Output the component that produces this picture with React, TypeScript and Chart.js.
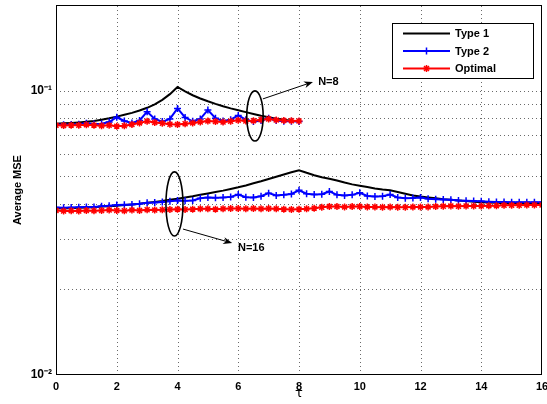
import React, { useEffect, useRef } from 'react';
import { Chart, registerables } from 'chart.js';

Chart.register(...registerables);

// ---------- data ----------
const TAU_8 = [0, 0.25, 0.5, 0.75, 1, 1.25, 1.5, 1.75, 2, 2.25, 2.5, 2.75, 3, 3.25, 3.5, 3.75, 4, 4.25, 4.5, 4.75, 5, 5.25, 5.5, 5.75, 6, 6.25, 6.5, 6.75, 7, 7.25, 7.5, 7.75, 8];
const TAU_16 = [0, 0.25, 0.5, 0.75, 1, 1.25, 1.5, 1.75, 2, 2.25, 2.5, 2.75, 3, 3.25, 3.5, 3.75, 4, 4.25, 4.5, 4.75, 5, 5.25, 5.5, 5.75, 6, 6.25, 6.5, 6.75, 7, 7.25, 7.5, 7.75, 8, 8.25, 8.5, 8.75, 9, 9.25, 9.5, 9.75, 10, 10.25, 10.5, 10.75, 11, 11.25, 11.5, 11.75, 12, 12.25, 12.5, 12.75, 13, 13.25, 13.5, 13.75, 14, 14.25, 14.5, 14.75, 15, 15.25, 15.5, 15.75, 16];

const TYPE1_N8 = [0.0765, 0.0767, 0.0770, 0.0773, 0.0777, 0.0782, 0.0790, 0.0799, 0.0810, 0.0822, 0.0835, 0.0851, 0.0870, 0.0895, 0.0928, 0.0972, 0.1030, 0.0993, 0.0963, 0.0938, 0.0917, 0.0898, 0.0881, 0.0866, 0.0853, 0.0840, 0.0828, 0.0816, 0.0806, 0.0797, 0.0790, 0.0784, 0.0780];
const TYPE2_N8 = [0.0760, 0.0758, 0.0760, 0.0762, 0.0768, 0.0763, 0.0765, 0.0775, 0.0806, 0.0782, 0.0770, 0.0785, 0.0843, 0.0795, 0.0778, 0.0795, 0.0866, 0.0805, 0.0780, 0.0795, 0.0855, 0.0800, 0.0782, 0.0790, 0.0818, 0.0790, 0.0778, 0.0785, 0.0800, 0.0785, 0.0780, 0.0780, 0.0778];
const OPTIMAL_N8 = [0.0755, 0.0754, 0.0756, 0.0755, 0.0758, 0.0756, 0.0752, 0.0755, 0.0750, 0.0752, 0.0760, 0.0770, 0.0780, 0.0772, 0.0768, 0.0762, 0.0760, 0.0765, 0.0770, 0.0776, 0.0782, 0.0778, 0.0775, 0.0780, 0.0786, 0.0782, 0.0784, 0.0790, 0.0795, 0.0788, 0.0785, 0.0784, 0.0782];

const TYPE1_N16 = [0.0385, 0.0386, 0.0386, 0.0387, 0.0388, 0.0389, 0.0391, 0.0392, 0.0394, 0.0396, 0.0398, 0.0400, 0.0403, 0.0406, 0.0409, 0.0413, 0.0417, 0.0421, 0.0425, 0.0430, 0.0435, 0.0440, 0.0445, 0.0451, 0.0457, 0.0464, 0.0472, 0.0480, 0.0489, 0.0498, 0.0507, 0.0516, 0.0525, 0.0514, 0.0504, 0.0496, 0.0490, 0.0483, 0.0475, 0.0468, 0.0463, 0.0458, 0.0453, 0.0449, 0.0446, 0.0440, 0.0434, 0.0428, 0.0424, 0.0421, 0.0418, 0.0415, 0.0413, 0.0411, 0.0409, 0.0407, 0.0405, 0.0404, 0.0403, 0.0402, 0.0401, 0.0401, 0.0400, 0.0400, 0.0400];
const TYPE2_N16 = [0.0388, 0.0387, 0.0388, 0.0389, 0.0390, 0.0390, 0.0392, 0.0394, 0.0396, 0.0397, 0.0398, 0.0400, 0.0403, 0.0404, 0.0406, 0.0408, 0.0411, 0.0410, 0.0411, 0.0418, 0.0421, 0.0420, 0.0421, 0.0423, 0.0431, 0.0422, 0.0421, 0.0425, 0.0436, 0.0428, 0.0430, 0.0433, 0.0446, 0.0434, 0.0431, 0.0432, 0.0442, 0.0430, 0.0428, 0.0430, 0.0437, 0.0426, 0.0424, 0.0425, 0.0431, 0.0421, 0.0418, 0.0419, 0.0421, 0.0417, 0.0415, 0.0414, 0.0413, 0.0411, 0.0410, 0.0409, 0.0408, 0.0407, 0.0406, 0.0406, 0.0405, 0.0405, 0.0405, 0.0405, 0.0405];
const OPTIMAL_N16 = [0.0379, 0.0377, 0.0378, 0.0377, 0.0379, 0.0378, 0.0379, 0.0380, 0.0379, 0.0378, 0.0380, 0.0379, 0.0381, 0.0380, 0.0381, 0.0382, 0.0383, 0.0382, 0.0383, 0.0384, 0.0384, 0.0383, 0.0384, 0.0385, 0.0385, 0.0384, 0.0385, 0.0384, 0.0385, 0.0384, 0.0383, 0.0382, 0.0383, 0.0384, 0.0386, 0.0389, 0.0391, 0.0391, 0.0390, 0.0391, 0.0391, 0.0390, 0.0390, 0.0389, 0.0390, 0.0389, 0.0389, 0.0390, 0.0390, 0.0390, 0.0391, 0.0392, 0.0393, 0.0392, 0.0393, 0.0393, 0.0393, 0.0394, 0.0394, 0.0395, 0.0395, 0.0395, 0.0396, 0.0396, 0.0396];

const SERIES_LABELS = ['Type 1', 'Type 2', 'Optimal'];
const X_TICK_STEP = 2;
const X_RANGE = [0, 16];
const Y_RANGE = [0.01, 0.2];
const Y_GRID_VALUES = [0.01, 0.02, 0.03, 0.04, 0.05, 0.06, 0.07, 0.08, 0.09, 0.1, 0.2];
const Y_LABELLED = { 0.1: '10⁻¹', 0.01: '10⁻²' } as Record<number, string>;
const X_TITLE = 'τ';
const Y_TITLE = 'Average MSE';

// annotation groups (data coordinates)
const GROUP_LABELS = ['N=8', 'N=16'];
const GROUP_ELLIPSES = [
  [6.28, 6.82, 0.0665, 0.0998],
  [3.62, 4.18, 0.0308, 0.0518],
];
const GROUP_ARROWS = [
  [6.81, 0.0935, 8.46, 0.1073],
  [4.18, 0.0326, 5.80, 0.0291],
];
const GROUP_TEXT_POS = [
  [8.63, 0.1073],
  [5.99, 0.0279],
];

const FONT = "'Liberation Sans', Arial, Helvetica, sans-serif";
const COLORS = ['#000000', '#0000ff', '#ff0000'];

function pts(xs: number[], ys: number[]) {
  return xs.map((x, i) => ({ x, y: ys[i] }));
}

function drawMarker(ctx: CanvasRenderingContext2D, kind: number, x: number, y: number) {
  ctx.save();
  ctx.strokeStyle = COLORS[kind];
  ctx.lineWidth = 1.5;
  ctx.beginPath();
  if (kind === 1) {
    const r = 3.5;
    ctx.moveTo(x - r, y); ctx.lineTo(x + r, y);
    ctx.moveTo(x, y - r); ctx.lineTo(x, y + r);
  } else if (kind === 2) {
    const r = 3.5;
    ctx.moveTo(x - r, y); ctx.lineTo(x + r, y);
    ctx.moveTo(x, y - r); ctx.lineTo(x, y + r);
    const d = r * Math.SQRT1_2;
    ctx.moveTo(x - d, y - d); ctx.lineTo(x + d, y + d);
    ctx.moveTo(x - d, y + d); ctx.lineTo(x + d, y - d);
  }
  ctx.stroke();
  ctx.restore();
}

const gridPlugin = {
  id: 'dottedGrid',
  beforeDatasetsDraw(chart: any) {
    const { ctx, chartArea, scales } = chart;
    const { left, top, right, bottom } = chartArea;
    ctx.save();
    ctx.strokeStyle = '#6a6a6a';
    ctx.lineWidth = 1;
    ctx.setLineDash([1, 3]);
    scales.x.ticks.forEach((t: any) => {
      const px = Math.round(scales.x.getPixelForValue(t.value)) + 0.5;
      if (px <= left + 1 || px >= right - 1) return;
      ctx.beginPath();
      ctx.moveTo(px, bottom);
      ctx.lineTo(px, top);
      ctx.stroke();
    });
    Y_GRID_VALUES.forEach((v) => {
      const py = Math.round(scales.y.getPixelForValue(v)) + 0.5;
      if (py <= top + 1 || py >= bottom - 1) return;
      ctx.beginPath();
      ctx.moveTo(left, py);
      ctx.lineTo(right, py);
      ctx.stroke();
    });
    ctx.restore();
  },
};

const overlayPlugin = {
  id: 'overlay',
  afterDatasetsDraw(chart: any) {
    const { ctx, chartArea, scales } = chart;
    const { left, top, right, bottom } = chartArea;
    const xs = scales.x;
    const ys = scales.y;
    ctx.save();

    // axes box
    ctx.strokeStyle = '#000';
    ctx.lineWidth = 1;
    ctx.strokeRect(Math.round(left) + 0.5, Math.round(top) + 0.5, Math.round(right - left) - 1, Math.round(bottom - top) - 1);

    // annotations
    GROUP_LABELS.forEach((label, i) => {
      const [ex0, ex1, ey0, ey1] = GROUP_ELLIPSES[i];
      const px0 = xs.getPixelForValue(ex0);
      const px1 = xs.getPixelForValue(ex1);
      const py0 = ys.getPixelForValue(ey1);
      const py1 = ys.getPixelForValue(ey0);
      ctx.strokeStyle = '#000';
      ctx.lineWidth = 1.6;
      ctx.beginPath();
      ctx.ellipse((px0 + px1) / 2, (py0 + py1) / 2, (px1 - px0) / 2, (py1 - py0) / 2, 0, 0, Math.PI * 2);
      ctx.stroke();

      const [ax0, ay0, ax1, ay1] = GROUP_ARROWS[i];
      const sx = xs.getPixelForValue(ax0);
      const sy = ys.getPixelForValue(ay0);
      const tx = xs.getPixelForValue(ax1);
      const ty = ys.getPixelForValue(ay1);
      const ang = Math.atan2(ty - sy, tx - sx);
      const hl = 9;
      const hw = 3.5;
      ctx.lineWidth = 1;
      ctx.beginPath();
      ctx.moveTo(sx, sy);
      ctx.lineTo(tx - Math.cos(ang) * hl * 0.7, ty - Math.sin(ang) * hl * 0.7);
      ctx.stroke();
      ctx.fillStyle = '#000';
      ctx.beginPath();
      ctx.moveTo(tx, ty);
      ctx.lineTo(tx - Math.cos(ang) * hl - Math.sin(ang) * hw, ty - Math.sin(ang) * hl + Math.cos(ang) * hw);
      ctx.lineTo(tx - Math.cos(ang) * hl * 0.7, ty - Math.sin(ang) * hl * 0.7);
      ctx.lineTo(tx - Math.cos(ang) * hl + Math.sin(ang) * hw, ty - Math.sin(ang) * hl - Math.cos(ang) * hw);
      ctx.closePath();
      ctx.fill();

      const [lx, ly] = GROUP_TEXT_POS[i];
      ctx.font = `bold 11px ${FONT}`;
      ctx.textAlign = 'left';
      ctx.textBaseline = 'middle';
      ctx.fillText(label, xs.getPixelForValue(lx), ys.getPixelForValue(ly));
    });

    // legend box
    const bx = Math.round(right) - 150;
    const by = Math.round(top) + 18;
    const bw = 141;
    const bh = 55;
    ctx.fillStyle = '#fff';
    ctx.fillRect(bx, by, bw, bh);
    ctx.strokeStyle = '#000';
    ctx.lineWidth = 1;
    ctx.strokeRect(bx + 0.5, by + 0.5, bw, bh);
    SERIES_LABELS.forEach((label, i) => {
      const yy = by + 10.5 + i * 17.5;
      ctx.strokeStyle = COLORS[i];
      ctx.lineWidth = 2;
      ctx.beginPath();
      ctx.moveTo(bx + 11, yy);
      ctx.lineTo(bx + 58, yy);
      ctx.stroke();
      drawMarker(ctx, i, bx + 34.5, yy);
      ctx.fillStyle = '#000';
      ctx.font = `bold 11px ${FONT}`;
      ctx.textAlign = 'left';
      ctx.textBaseline = 'middle';
      ctx.fillText(label, bx + 63, yy + 0.5);
    });
    ctx.restore();
  },
};

export default function App() {
  const canvasRef = useRef<HTMLCanvasElement | null>(null);

  useEffect(() => {
    const canvas = canvasRef.current;
    if (!canvas) return;
    const lineBase = { fill: false, tension: 0, borderWidth: 2, pointHoverRadius: 0 };
    const redPts = { pointStyle: 'star', pointRadius: 3.5, pointBorderWidth: 1.5, pointBorderColor: COLORS[2], pointBackgroundColor: COLORS[2] };
    const bluePts = { pointStyle: 'cross', pointRadius: 3.5, pointBorderWidth: 1.5, pointBorderColor: COLORS[1] };
    const chart = new Chart(canvas, {
      type: 'line',
      data: {
        datasets: [
          { ...lineBase, ...redPts, label: SERIES_LABELS[2], data: pts(TAU_8, OPTIMAL_N8), borderColor: COLORS[2], order: 0 },
          { ...lineBase, ...bluePts, label: SERIES_LABELS[1], data: pts(TAU_8, TYPE2_N8), borderColor: COLORS[1], order: 1 },
          { ...lineBase, label: SERIES_LABELS[0], data: pts(TAU_8, TYPE1_N8), borderColor: COLORS[0], pointRadius: 0, order: 2 },
          { ...lineBase, ...redPts, label: SERIES_LABELS[2], data: pts(TAU_16, OPTIMAL_N16), borderColor: COLORS[2], order: 0 },
          { ...lineBase, ...bluePts, label: SERIES_LABELS[1], data: pts(TAU_16, TYPE2_N16), borderColor: COLORS[1], order: 1 },
          { ...lineBase, label: SERIES_LABELS[0], data: pts(TAU_16, TYPE1_N16), borderColor: COLORS[0], pointRadius: 0, order: 2 },
        ],
      },
      options: {
        responsive: false,
        animation: false,
        events: [],
        layout: { padding: { top: 5, right: 5, left: 0, bottom: 0 } },
        plugins: { legend: { display: false }, tooltip: { enabled: false }, title: { display: false } },
        scales: {
          x: {
            type: 'linear',
            min: X_RANGE[0],
            max: X_RANGE[1],
            afterFit: (s: any) => { s.height = 29; s.paddingLeft = 0; s.paddingRight = 0; },
            ticks: { stepSize: X_TICK_STEP, padding: 5, color: '#000', font: { family: FONT, size: 11, weight: 'bold' } },
            grid: { display: false, drawTicks: false },
            border: { display: false },
            title: { display: true, text: X_TITLE, color: '#000', font: { family: "'DejaVu Sans', sans-serif", size: 13 }, padding: { top: 3, bottom: 3 } },
          },
          y: {
            type: 'logarithmic',
            min: Y_RANGE[0],
            max: Y_RANGE[1],
            afterFit: (s: any) => { s.width = 56; s.paddingTop = 0; s.paddingBottom = 0; },
            afterBuildTicks: (s: any) => { s.ticks = Y_GRID_VALUES.map((v) => ({ value: v })); },
            ticks: {
              autoSkip: false,
              padding: 4,
              color: '#000',
              font: { family: FONT, size: 12, weight: 'bold' },
              callback: (v: any) => Y_LABELLED[v as number] ?? '',
            },
            grid: { display: false, drawTicks: false },
            border: { display: false },
            title: { display: true, text: Y_TITLE, color: '#000', font: { family: FONT, size: 11, weight: 'bold' }, padding: { top: 11, bottom: 11 } },
          },
        },
      },
      plugins: [gridPlugin, overlayPlugin],
    } as any);
    return () => chart.destroy();
  }, []);

  return (
    <div style={{ position: 'fixed', left: 0, top: 0, width: 547, height: 404, background: '#fff' }}>
      <canvas ref={canvasRef} width={547} height={404} style={{ display: 'block' }} />
    </div>
  );
}
